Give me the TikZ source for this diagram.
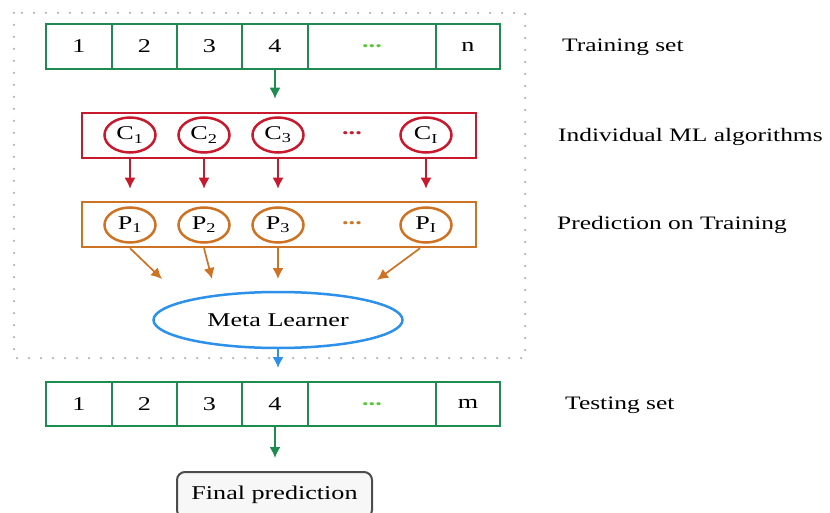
\documentclass[tikz,border=0pt]{standalone}
\usepackage{fontspec}
\setmainfont[FakeStretch=1.34]{Liberation Serif}
\usepackage{tikz}
\usetikzlibrary{arrows.meta,positioning,shapes}

\definecolor{setgreen}{RGB}{30,140,80}
\definecolor{dotgreen}{RGB}{90,200,60}
\definecolor{algred}{RGB}{200,25,45}
\definecolor{predorange}{RGB}{205,115,35}
\definecolor{metablue}{RGB}{45,145,235}

\begin{document}
\begin{tikzpicture}[x=1pt,y=-1pt,
            every node/.style={font=\fontsize{19.5}{22}\selectfont},
            cell/.style={draw=setgreen,line width=2.5pt,outer sep=0pt,inner sep=0pt,minimum height=45pt,minimum width=65pt},
            algo/.style={draw=algred,ellipse,line width=2.5pt,minimum width=51pt,minimum height=35pt,inner sep=0pt},
            pred/.style={algo,draw=predorange},
            band/.style={rectangle,line width=2.5pt,minimum width=394pt,minimum height=45pt,inner sep=0pt},
            lab/.style={anchor=west,inner sep=0pt,font=\fontsize{19}{22}\selectfont},
            link/.style={-{Latex[length=11pt,width=11pt]},line width=1.7pt}
          ]
          \useasboundingbox (0,0) rectangle (830,513);
          \clip (0,0) rectangle (830,513);

          %stacking frame
          \draw[gray!60,line width=2.5pt,dash pattern=on 0pt off 12pt,line cap=round] (14,13) rectangle (525,358);

          %training set
          \node[cell,minimum width=66pt] (t1) at (79,46.5) {1};
          \node[cell,right=0pt of t1] (t2) {2};
          \node[cell,right=0pt of t2] (t3) {3};
          \node[cell,minimum width=66pt,right=0pt of t3] (t4) {4};
          \node[cell,minimum width=128pt,right=0pt of t4] (t5) {\textcolor{dotgreen}{\textbf{...}}};
          \node[cell,minimum width=64pt,right=0pt of t5] (tn) {n};

          %individual algorithms
          \node[band,draw=algred] (algbox) at (279,135.5) {};
          \node[algo] (c1) at (130,135) {C\textsubscript{1}};
          \node[algo] (c2) at (204,135) {C\textsubscript{2}};
          \node[algo] (c3) at (278,135) {C\textsubscript{3}};
          \node[text=algred] (cdots) at (352,133) {\textbf{...}};
          \node[algo] (cI) at (426,135) {C\textsubscript{I}};

          %predictions
          \node[band,draw=predorange] (predbox) at (279,224.5) {};
          \node[pred] (p1) at (130,225) {P\textsubscript{1}};
          \node[pred] (p2) at (204,225) {P\textsubscript{2}};
          \node[pred] (p3) at (278,225) {P\textsubscript{3}};
          \node[text=predorange] (pdots) at (352,223) {\textbf{...}};
          \node[pred] (pI) at (426,225) {P\textsubscript{I}};

          %meta learner
          \node[draw=metablue,ellipse,line width=2.5pt,minimum width=249pt,minimum height=56pt,inner sep=0pt] (meta) at (278,320) {Meta Learner};
          \coordinate (m1) at (162,279);
          \coordinate (m2) at (212,279);
          \coordinate (m3) at (278,279);
          \coordinate (m4) at (377,280);

          %testing set
          \node[cell,minimum width=66pt,minimum height=44pt] (b1) at (79,404) {1};
          \node[cell,minimum height=44pt,right=0pt of b1] (b2) {2};
          \node[cell,minimum height=44pt,right=0pt of b2] (b3) {3};
          \node[cell,minimum width=66pt,minimum height=44pt,right=0pt of b3] (b4) {4};
          \node[cell,minimum width=128pt,minimum height=44pt,right=0pt of b4] (b5) {\textcolor{dotgreen}{\textbf{...}}};
          \node[cell,minimum width=64pt,minimum height=44pt,right=0pt of b5] (bm) {m};

          \node[draw=gray!60!black,fill=gray!6,rounded corners=8pt,line width=2pt,minimum width=195pt,minimum height=46pt] (final) at (274.5,495) {Final prediction};

          %labels
          \node[lab] (ltrain) at (562,47) {Training set};
          \node[lab] (lalgo) at (558,137) {Individual ML algorithms};
          \node[lab] (lpred) at (557,225) {Prediction on Training};
          \node[lab] (ltest) at (565,405) {Testing set};

          %arrows
          \draw[link,setgreen,shorten >=13pt] (t4.south) -- (t4.south |- algbox.north);
          \draw[link,algred,shorten >=12pt] (c1 |- algbox.south) -- (c1 |- predbox.north);
          \draw[link,algred,shorten >=12pt] (c2 |- algbox.south) -- (c2 |- predbox.north);
          \draw[link,algred,shorten >=12pt] (c3 |- algbox.south) -- (c3 |- predbox.north);
          \draw[link,algred,shorten >=12pt] (cI |- algbox.south) -- (cI |- predbox.north);
          \draw[link,predorange] (p1 |- predbox.south) -- (m1);
          \draw[link,predorange] (p2 |- predbox.south) -- (m2);
          \draw[link,predorange] (p3 |- predbox.south) -- (m3);
          \draw[link,predorange] ([xshift=-6pt]pI |- predbox.south) -- (m4);
          \draw[link,metablue,shorten >=14pt] (meta.south) -- (meta.south |- b4.north);
          \draw[link,setgreen,shorten >=13pt] (b4.south) -- (b4.south |- final.north);

      \end{tikzpicture}
\end{document}
